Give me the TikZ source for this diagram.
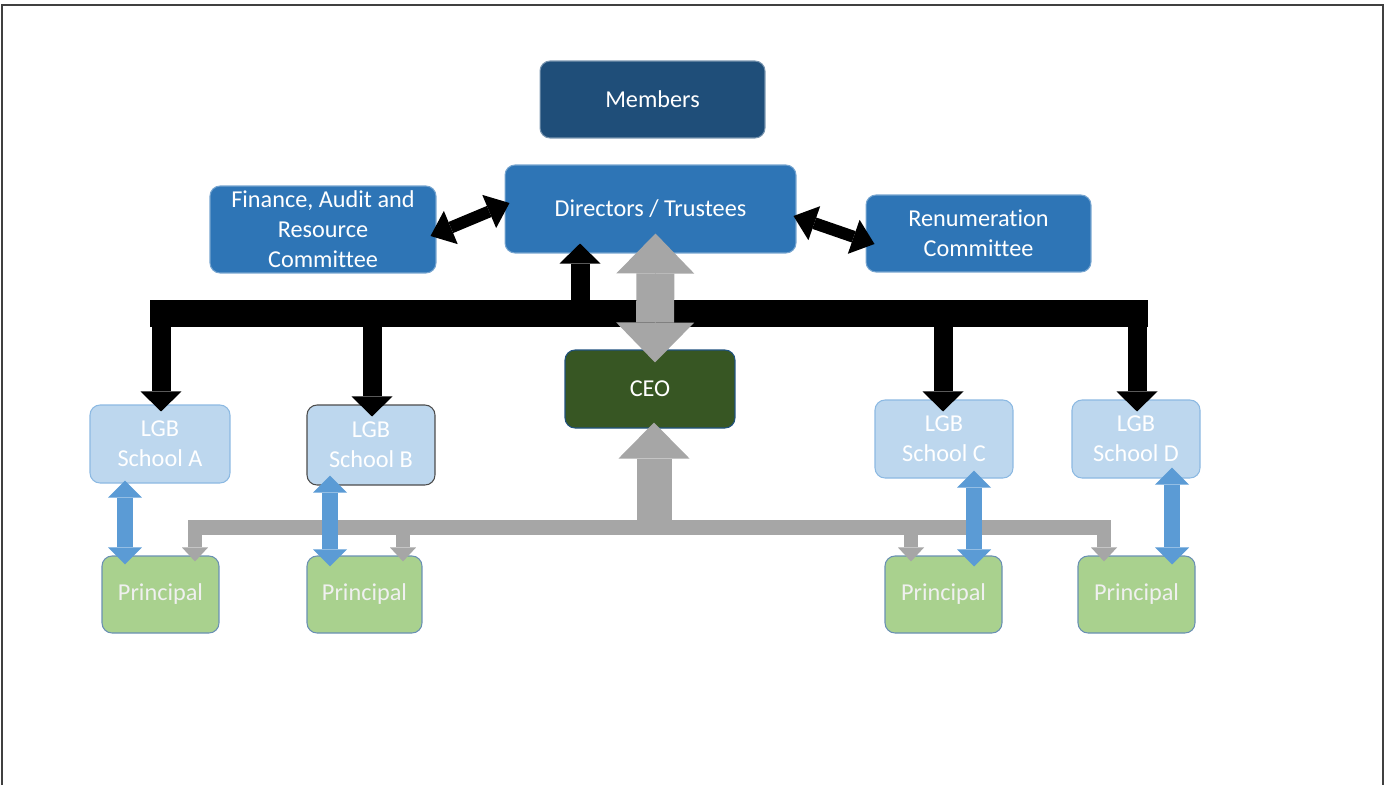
\documentclass[tikz,border=0pt]{standalone}
\usepackage{fontspec}
\setmainfont{Carlito}[Ligatures=NoCommon]
\usetikzlibrary{arrows.meta,calc}
\definecolor{membersblue}{HTML}{1F4E79}
\definecolor{boardblue}{HTML}{2E75B6}
\definecolor{ceogreen}{HTML}{375623}
\definecolor{lgbblue}{HTML}{BDD7EE}
\definecolor{principalgreen}{HTML}{A9D18E}
\definecolor{linkblue}{HTML}{5B9BD5}
\definecolor{linkgray}{HTML}{A6A6A6}

\begin{document}
\begin{tikzpicture}[x=0.02cm, y=-0.02cm,
  box/.style={rectangle, rounded corners=0.2cm, align=center, text=white, inner sep=2pt,
    font=\fontsize{13.8}{17}\selectfont, line width=0.6pt},
  members_node/.style={box, fill=membersblue, draw=membersblue!60!white},
  board_node/.style={box, fill=boardblue, draw=boardblue!65!white},
  ceo_node/.style={box, fill=ceogreen, draw=boardblue!70!black},
  lgb_node/.style={box, fill=lgbblue, draw=linkblue!70!white},
  principal_node/.style={box, fill=principalgreen, draw=linkblue!60!gray, text=white!94!black},
  black_bus/.style={line width=0.54cm},
  black_arrow/.style={line width=0.38cm, -{Triangle[width=0.82cm,length=0.4cm,line width=0pt]}},
  side_arrow/.style={line width=0.24cm, {Triangle[width=0.72cm,length=0.44cm,line width=0pt]}-{Triangle[width=0.72cm,length=0.44cm,line width=0pt]}},
  gray_bus/.style={linkgray, line width=0.3cm},
  gray_drop/.style={linkgray, line width=0.28cm, -{Triangle[width=0.52cm,length=0.28cm,line width=0pt]}},
  gray_up/.style={linkgray, line width=0.7cm, -{Triangle[width=1.42cm,length=0.72cm,line width=0pt]}},
  gray_double/.style={linkgray, line width=0.76cm,
    preaction={draw=linkgray, arrows=-, shorten <=0.4cm, shorten >=0.4cm},
    {Triangle[width=1.56cm,length=0.8cm,line width=0pt]}-{Triangle[width=1.56cm,length=0.8cm,line width=0pt]}},
  blue_link/.style={linkblue, line width=0.32cm, {Triangle[width=0.68cm,length=0.34cm,line width=0pt]}-{Triangle[width=0.68cm,length=0.34cm,line width=0pt]}},
  frame/.style={draw=black!75, line width=0.03cm}]

    \useasboundingbox (0,0) rectangle (1386,785);
    \draw[frame] (2,785) -- (2,5) -- (1383,5) -- (1383,785);

    \node[members_node, minimum width=4.5cm, minimum height=1.54cm] (members) at (652.5,99.5) {Members};
    \node[board_node, minimum width=5.82cm, minimum height=1.76cm] (dir) at (650.5,209) {\raisebox{-2pt}{Directors / Trustees}};
    \node[board_node, minimum width=4.52cm, minimum height=1.74cm] (fin) at (323,229.5) {Finance, Audit and\\Resource\\Committee};
    \node[board_node, minimum width=4.5cm, minimum height=1.54cm] (rem) at (978.5,233.5) {Renumeration\\Committee};
    \node[ceo_node, minimum width=3.4cm, minimum height=1.56cm] (ceo) at (650,389) {CEO};

    \node[lgb_node, minimum width=2.8cm, minimum height=1.56cm] (lgbA) at (160,444) {LGB\\School A};
    \node[lgb_node, draw=black!70, minimum width=2.56cm, minimum height=1.6cm] (lgbB) at (371,445) {LGB\\School B};
    \node[lgb_node, minimum width=2.76cm, minimum height=1.56cm] (lgbC) at (944,439) {LGB\\School C};
    \node[lgb_node, minimum width=2.56cm, minimum height=1.56cm] (lgbD) at (1136,439) {LGB\\School D};

    \node[principal_node, minimum width=2.34cm, minimum height=1.54cm] (prA) at (160.5,594.5) {Principal};
    \node[principal_node, minimum width=2.3cm, minimum height=1.54cm] (prB) at (364.5,594.5) {Principal};
    \node[principal_node, minimum width=2.34cm, minimum height=1.54cm] (prC) at (943.5,594.5) {Principal};
    \node[principal_node, minimum width=2.34cm, minimum height=1.54cm] (prD) at (1136.5,594.5) {Principal};

    \coordinate (board_bus) at (0,313.5);
    \coordinate (bus_left) at (150,313.5);
    \coordinate (bus_right) at (1148,313.5);
    \coordinate (up_foot) at (580,313.5);
    \draw[black_bus] (bus_left) -- (bus_right);
    \draw[black_arrow] ($(lgbA.north |- board_bus)+(1,0)$) -- ($(lgbA.north)+(1,7)$);
    \draw[black_arrow] ($(lgbB.north |- board_bus)+(1,0)$) -- ($(lgbB.north)+(1,12)$);
    \draw[black_arrow] ($(lgbC.north |- board_bus)+(-1,0)$) -- ($(lgbC.north)+(-1,12)$);
    \draw[black_arrow] ($(lgbD.north |- board_bus)+(1,0)$) -- ($(lgbD.north)+(1,12)$);
    \draw[black_arrow] (up_foot) -- ($(up_foot |- dir.south)+(0,-10)$);

    \draw[side_arrow] ($(fin.east)+(-6,6.5)$) -- ($(dir.west)+(5,-6)$);
    \draw[side_arrow] ($(dir.east)+(-3,7)$) -- ($(rem.west)+(9,10.5)$);

    \coordinate (school_bus) at (0,527.5);
    \coordinate (dropA) at (195,527.5);
    \coordinate (dropB) at (403,527.5);
    \coordinate (dropC) at (911,527.5);
    \coordinate (dropD) at (1104,527.5);
    \draw[gray_bus] ($(dropA)+(-7,0)$) -- ($(dropD)+(7,0)$);
    \foreach \s in {A,B,C,D}
        \draw[gray_drop] (drop\s) -- ($(drop\s |- pr\s.north)+(0,6)$);
    \draw[gray_up] ($(ceo.south |- school_bus)+(4,0)$) -- ($(ceo.south)+(4,-6)$);
    \draw[gray_double] ($(dir.south)+(5,-20)$) -- ($(ceo.north)+(5,13)$);

    \foreach \s/\dx/\dt/\db in {A/-35/-3/9, B/-41/-10/11, C/30/-8/11, D/36/-11/9}
        \draw[blue_link] ($(lgb\s.south)+(\dx,\dt)$) -- ($(lgb\s.south |- pr\s.north)+(\dx,\db)$);
\end{tikzpicture}
\end{document}
